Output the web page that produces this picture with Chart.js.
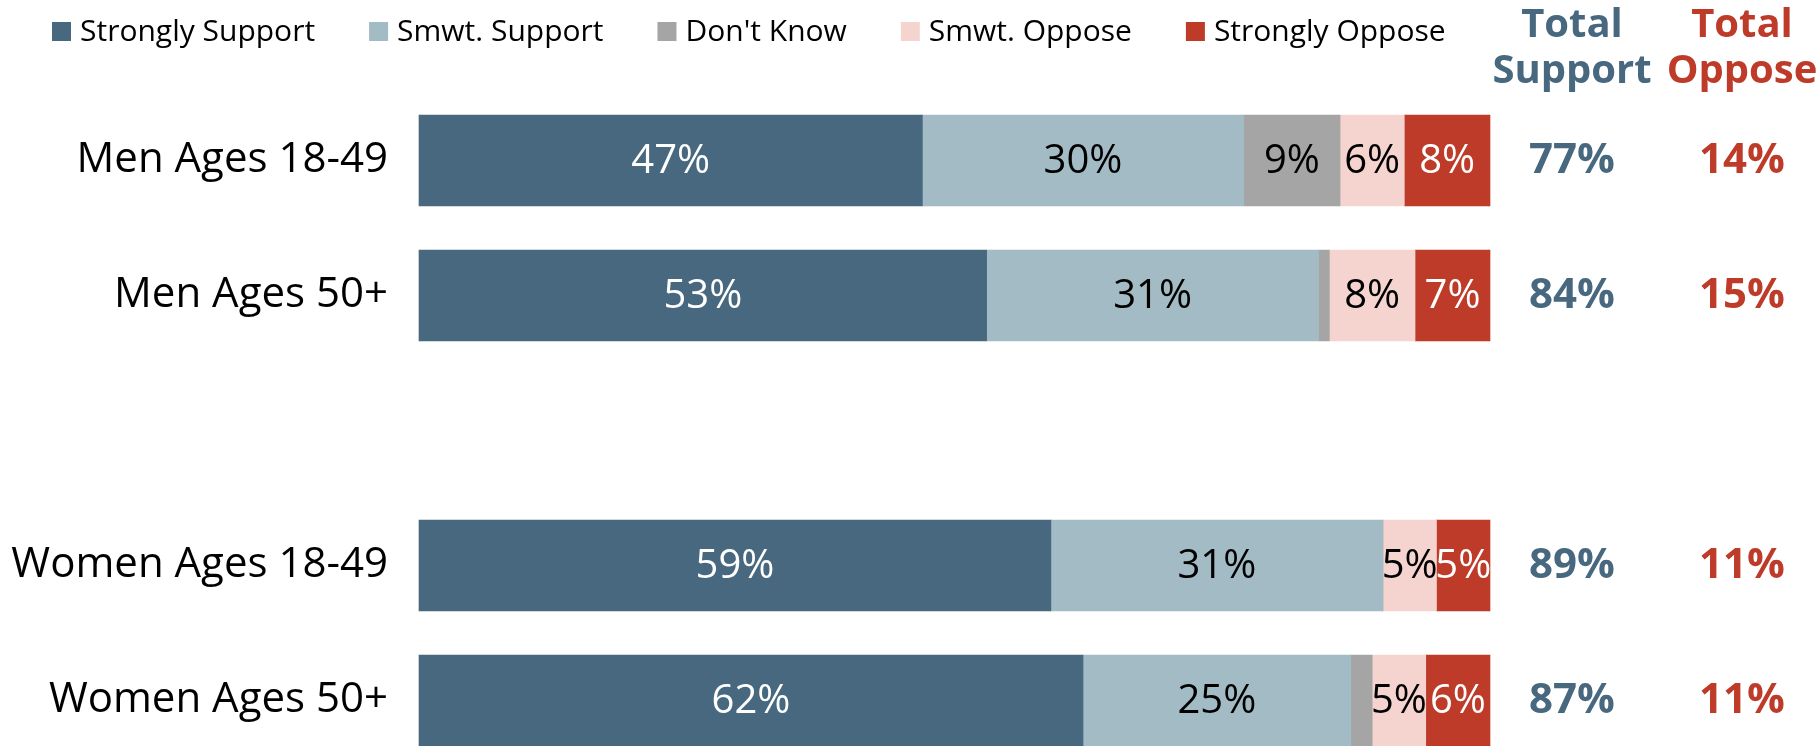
<!DOCTYPE html>
<html lang="en">
  <head>
    <meta charset="UTF-8" />
    <title>Support by gender and age</title>
    <script src="https://cdn.jsdelivr.net/npm/chart.js"></script>
    <style>
      html, body { margin: 0; padding: 0; background: #fff; }
      #wrap { width: 1817px; height: 746px; position: relative; }
    </style>
  </head>
  <body>
    <div id="wrap"><canvas id="chart"></canvas></div>

    <script>
      // data (empty slot = gap between men and women)
      const categories = ["Men Ages 18-49", "Men Ages 50+", "", "Women Ages 18-49", "Women Ages 50+"];
      const stronglySupport = [47, 53, null, 59, 62];
      const smwtSupport = [30, 31, null, 31, 25];
      const dontKnow = [9, 1, null, 0, 2];
      const smwtOppose = [6, 8, null, 5, 5];
      const stronglyOppose = [8, 7, null, 5, 6];
      const totalSupport = [77, 84, null, 89, 87];
      const totalOppose = [14, 15, null, 11, 11];

      const FONT = "'Open Sans', 'Noto Sans', sans-serif";
      const BLUE = "#47687f";
      const RED = "#bd3b28";

      const series = [
        { label: "Strongly Support", data: stronglySupport, color: BLUE, text: "#fff" },
        { label: "Smwt. Support", data: smwtSupport, color: "#a3bbc4", text: "#000" },
        { label: "Don't Know", data: dontKnow, color: "#a5a5a5", text: "#000" },
        { label: "Smwt. Oppose", data: smwtOppose, color: "#f5d4d0", text: "#000" },
        { label: "Strongly Oppose", data: stronglyOppose, color: RED, text: "#fff" },
      ];

      // percent labels inside the bars
      const barLabels = {
        id: "barLabels",
        afterDatasetsDraw(chart) {
          const ctx = chart.ctx;
          ctx.save();
          ctx.font = "40px " + FONT;
          ctx.textAlign = "center";
          ctx.textBaseline = "middle";
          chart.data.datasets.forEach((ds, i) => {
            chart.getDatasetMeta(i).data.forEach((bar, j) => {
              const v = ds.data[j];
              if (v == null || v < 5) return;
              const c = bar.getCenterPoint();
              ctx.fillStyle = ds.textColor;
              ctx.fillText(v + "%", c.x, c.y + 1);
            });
          });
          ctx.restore();
        },
      };

      // legend row across the top, drawn from the datasets
      const topLegend = {
        id: "topLegend",
        afterDraw(chart) {
          const ctx = chart.ctx;
          ctx.save();
          ctx.font = "30px " + FONT;
          ctx.textBaseline = "middle";
          let x = 52;
          chart.data.datasets.forEach((ds) => {
            ctx.fillStyle = ds.backgroundColor;
            ctx.fillRect(x, 22, 19, 19);
            ctx.fillStyle = "#000";
            ctx.fillText(ds.label, x + 28, 32);
            x += 28 + ctx.measureText(ds.label).width + 54;
          });
          ctx.restore();
        },
      };

      // total support / total oppose columns on the right
      const totals = {
        id: "totals",
        afterDraw(chart) {
          const ctx = chart.ctx;
          const y = chart.scales.y;
          const colS = 1572, colO = 1742;
          ctx.save();
          ctx.textAlign = "center";
          ctx.textBaseline = "alphabetic";
          ctx.font = "bold 40px " + FONT;
          ctx.fillStyle = BLUE;
          ctx.fillText("Total", colS, 37);
          ctx.fillText("Support", colS, 83);
          ctx.fillStyle = RED;
          ctx.fillText("Total", colO, 37);
          ctx.fillText("Oppose", colO, 83);

          ctx.font = "bold 42px " + FONT;
          ctx.textBaseline = "middle";
          categories.forEach((c, i) => {
            const py = y.getPixelForValue(i);
            if (totalSupport[i] != null) {
              ctx.fillStyle = BLUE;
              ctx.fillText(totalSupport[i] + "%", colS, py + 1);
            }
            if (totalOppose[i] != null) {
              ctx.fillStyle = RED;
              ctx.fillText(totalOppose[i] + "%", colO, py + 1);
            }
          });
          ctx.restore();
        },
      };

      new Chart(document.getElementById("chart"), {
        type: "bar",
        data: {
          labels: categories,
          datasets: series.map((s) => ({
            label: s.label,
            data: s.data,
            backgroundColor: s.color,
            textColor: s.text,
            borderWidth: 0,
            barThickness: 91,
            clip: false,
          })),
        },
        options: {
          indexAxis: "y",
          responsive: true,
          maintainAspectRatio: false,
          animation: false,
          layout: { padding: { left: 0, right: 327, top: 160.5, bottom: 45.5 } },
          plugins: {
            legend: { display: false },
            tooltip: { enabled: false },
          },
          scales: {
            x: { stacked: true, min: 0, max: 100, display: false },
            y: {
              stacked: true,
              offset: false,
              grid: { display: false, drawTicks: false },
              border: { display: false },
              ticks: {
                color: "#000",
                font: { family: FONT, size: 42 },
                padding: 31,
              },
              afterFit(scale) {
                scale.width = 419;
                scale.paddingTop = 0;
                scale.paddingBottom = 0;
              },
            },
          },
        },
        plugins: [barLabels, topLegend, totals],
      });
    </script>
  </body>
</html>
